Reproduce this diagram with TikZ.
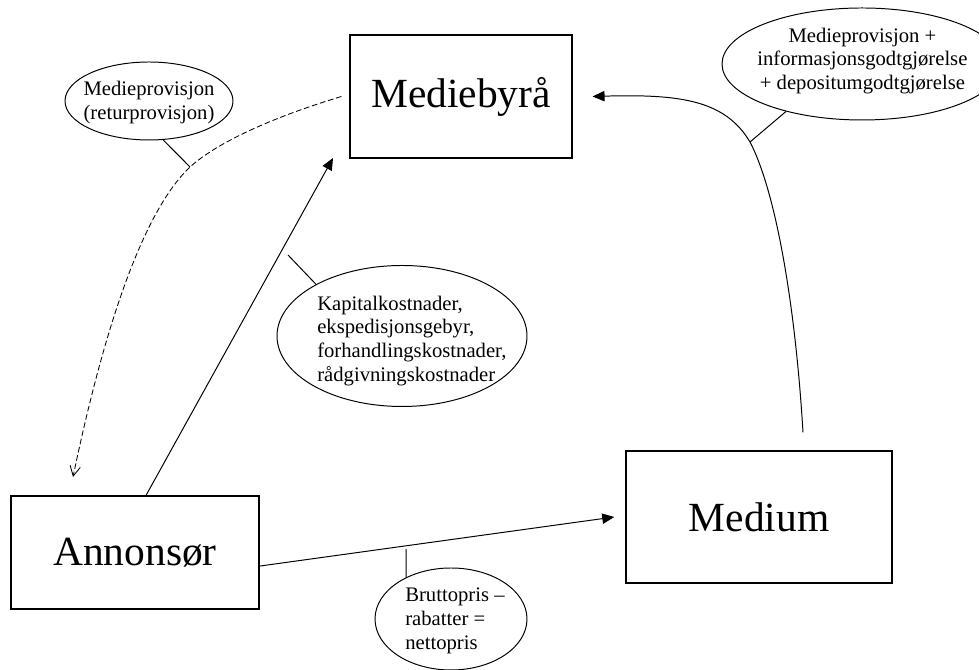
\documentclass[tikz,border=0pt]{standalone}
\usepackage{fontspec}
\setmainfont{Liberation Serif}
\usetikzlibrary{arrows.meta,calc,shapes.geometric}
\tikzset{
  party box/.style={draw=black, line width=0.8pt, inner sep=0pt,
    font=\fontsize{29.5}{34}\selectfont},
  bubble/.style={ellipse, draw=black, line width=0.7pt, inner sep=0pt},
  bubble text/.style={align=left, inner sep=0pt,
    font=\fontsize{14.7}{17}\selectfont},
  pay arrow/.style={-{Triangle[length=3mm, width=2.6mm]}, line width=0.7pt},
  return arrow/.style={-{Straight Barb[length=2.5mm, width=2.6mm]},
    line width=0.6pt, dash pattern=on 4pt off 2pt},
  tick/.style={line width=0.7pt}
}

\begin{document}
\begin{tikzpicture}
  \useasboundingbox (0,0) rectangle (24.475,16.75);
  \node[party box, minimum width=5.55cm, minimum height=3.075cm]
    (mediebyra) at (11.525,14.3375) {Mediebyrå};
  \node[party box, minimum width=6.2cm, minimum height=2.825cm]
    (annonsor) at (3.375,2.9375) {Annonsør};
  \node[party box, minimum width=6.65cm, minimum height=3.3cm]
    (medium) at (18.975,3.825) {Medium};

  \node[bubble, minimum width=4.2cm, minimum height=1.95cm] (retur)
    at (3.725,14.225) {};
  \node[bubble text, align=center] (returtxt) at (3.725,14.18)
    {Medieprovisjon\\(returprovisjon)};
  \node[bubble, minimum width=6.25cm, minimum height=3.525cm] (kostnad)
    at (10.05,8.35) {};
  \node[bubble text, anchor=west] (kostnadtxt) at (7.925,8.225)
    {Kapitalkostnader,\\ekspedisjonsgebyr,\\forhandlingskostnader,\\rådgivningskostnader};
  \node[bubble, minimum width=7.0cm, minimum height=2.8cm] (honorar)
    at (21.55,15.15) {};
  \node[bubble text, align=center] (honorartxt) at (21.56,15.225)
    {Medieprovisjon +\\informasjonsgodtgjørelse\\+ depositumgodtgjørelse};
  \node[bubble, minimum width=3.8cm, minimum height=2.55cm] (pris)
    at (11.275,1.275) {};
  \node[bubble text, anchor=west] (pristxt) at (10.125,1.23)
    {Bruttopris –\\rabatter =\\nettopris};

  \coordinate (a1end) at (8.325,12.8);
  \coordinate (rknee) at (4.75,12.575);
  \coordinate (rend) at (1.825,4.825);
  \coordinate (mknee) at (18.75,13.2);
  \coordinate (kt) at (7.2,10.375);
  \coordinate (pt) at (10.15,3.025);

  \draw[pay arrow] ([xshift=0.275cm]annonsor.north) -- (a1end);
  \draw[pay arrow] ([yshift=-0.34cm]annonsor.east)
    -- ([xshift=-0.28cm]medium.west);
  \draw[pay arrow] ([xshift=1.1cm, yshift=0.45cm]medium.north)
    .. controls (19.875,9.25) and (19.375,12.0) .. (mknee)
    .. controls (18.125,14.25) and (17.0,14.4) .. ([xshift=0.5cm]mediebyra.east);
  \draw[return arrow] ([xshift=-0.2cm]mediebyra.west)
    .. controls (7.0,13.875) and (5.5,13.25) .. (rknee)
    .. controls (3.75,11.625) and (2.75,9.25) .. (rend);

  \draw[tick] (retur.290) -- (rknee);
  \draw[tick] (kt) -- (kostnad.149);
  \draw[tick] (mknee) -- (honorar.212);
  \draw[tick] (pt) -- (pris.137);
\end{tikzpicture}
\end{document}
